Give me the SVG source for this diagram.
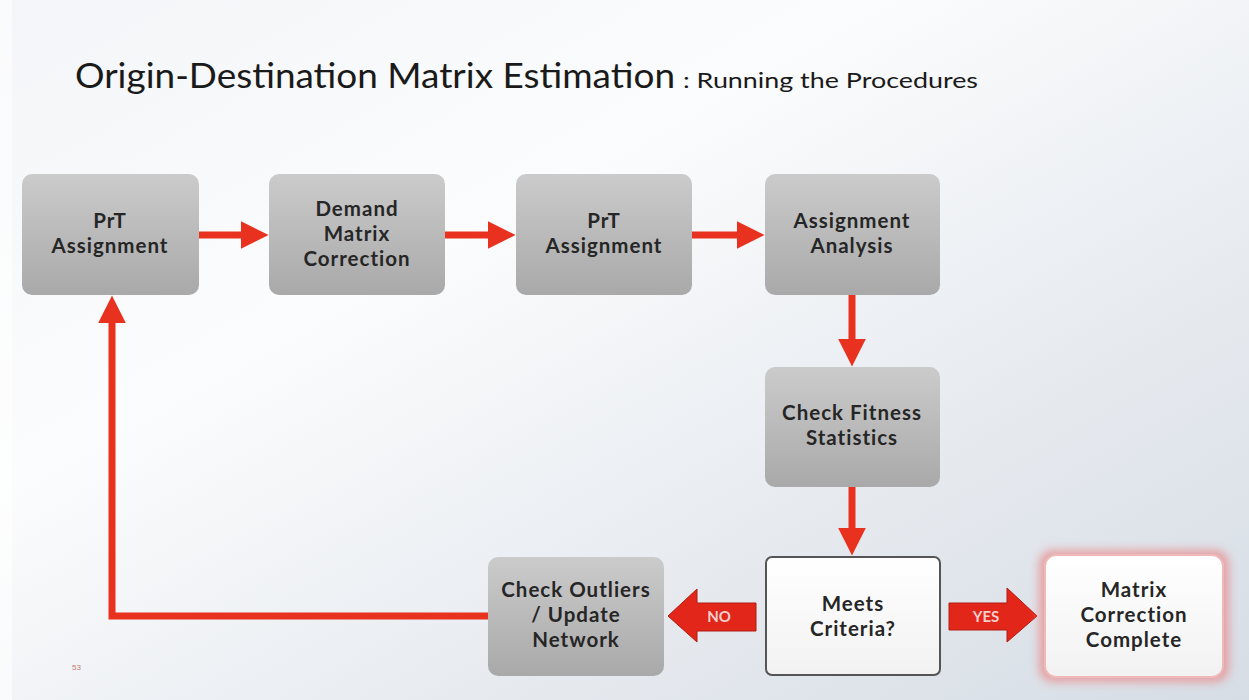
<svg xmlns="http://www.w3.org/2000/svg" width="1249" height="700" viewBox="0 0 1249 700">
<defs>
<linearGradient id="bg" x1="0" y1="0" x2="1" y2="1">
<stop offset="0" stop-color="#f3f5f8"/>
<stop offset="0.35" stop-color="#fbfcfd"/>
<stop offset="0.7" stop-color="#e6eaef"/>
<stop offset="1" stop-color="#d6dde5"/>
</linearGradient>
<linearGradient id="gbox" x1="0" y1="0" x2="0" y2="1">
<stop offset="0" stop-color="#cbcbcb"/>
<stop offset="1" stop-color="#a9a9a9"/>
</linearGradient>
<linearGradient id="wbox" x1="0" y1="0" x2="0" y2="1">
<stop offset="0" stop-color="#ffffff"/>
<stop offset="1" stop-color="#f2f2f2"/>
</linearGradient>
<filter id="glow" x="-20%" y="-20%" width="140%" height="140%">
<feGaussianBlur stdDeviation="5"/>
</filter>
<marker id="ah" markerWidth="4" markerHeight="4" refX="2.2" refY="2" orient="auto" markerUnits="strokeWidth">
<path d="M0,0 L4,2 L0,4 Z" fill="#e8321f"/>
</marker>
<style>
.box{fill:url(#gbox);}
.lbl{font-family:"Lato","Open Sans","Liberation Sans",sans-serif;font-weight:bold;font-size:20.5px;letter-spacing:1px;fill:#262626;text-anchor:middle;}
.con{stroke:#e8321f;stroke-width:7;fill:none;}
.blk{fill:#e3261a;stroke:#b01c12;stroke-width:1;}
.blt{font-family:"Lato","Liberation Sans",sans-serif;font-weight:bold;font-size:15px;fill:#f4d0cc;text-anchor:middle;}
</style>
</defs>
<rect width="1249" height="700" fill="url(#bg)"/>
<rect x="0" y="0" width="12" height="700" fill="#ffffff" opacity="0.6"/>
<text x="75" y="88" font-family="Lato,'Liberation Sans',sans-serif" font-size="34" fill="#1a1a1a" textLength="600" lengthAdjust="spacingAndGlyphs">Origin-Destination Matrix Estimation</text>
<text x="683" y="88" font-family="Lato,'Liberation Sans',sans-serif" font-size="22" fill="#1a1a1a" textLength="295" lengthAdjust="spacingAndGlyphs">: Running the Procedures</text>
<text x="72" y="670" font-family="'Liberation Sans',sans-serif" font-size="8" fill="#c27a7a">53</text>

<g id="connectors">
<line class="con" x1="199" y1="235" x2="256" y2="235" marker-end="url(#ah)"/>
<line class="con" x1="445" y1="235" x2="503" y2="235" marker-end="url(#ah)"/>
<line class="con" x1="692" y1="235" x2="752" y2="235" marker-end="url(#ah)"/>
<line class="con" x1="852" y1="295" x2="852" y2="354" marker-end="url(#ah)"/>
<line class="con" x1="852" y1="487" x2="852" y2="543" marker-end="url(#ah)"/>
<polyline class="con" points="488,616 112,616 112,308" marker-end="url(#ah)"/>
<g id="no-arrow">
<path class="blk" d="M756,603 L697,603 L697,589 L668,616 L697,642 L697,631 L756,631 Z"/>
<text class="blt" x="719" y="622">NO</text>
</g>
<g id="yes-arrow">
<path class="blk" d="M949,603 L1007,603 L1007,588 L1037,616 L1007,642 L1007,630 L949,630 Z"/>
<text class="blt" x="986" y="622">YES</text>
</g>
</g>

<g id="prt1">
<rect class="box" x="22" y="174" width="177" height="121" rx="10"/>
<text class="lbl" x="110" y="228">PrT</text>
<text class="lbl" x="110" y="253">Assignment</text>
</g>
<g id="demand">
<rect class="box" x="269" y="174" width="176" height="121" rx="10"/>
<text class="lbl" x="357" y="216">Demand</text>
<text class="lbl" x="357" y="241">Matrix</text>
<text class="lbl" x="357" y="266">Correction</text>
</g>
<g id="prt2">
<rect class="box" x="516" y="174" width="176" height="121" rx="10"/>
<text class="lbl" x="604" y="228">PrT</text>
<text class="lbl" x="604" y="253">Assignment</text>
</g>
<g id="analysis">
<rect class="box" x="765" y="174" width="175" height="121" rx="10"/>
<text class="lbl" x="852" y="228">Assignment</text>
<text class="lbl" x="852" y="253">Analysis</text>
</g>
<g id="fitness">
<rect class="box" x="765" y="367" width="175" height="120" rx="10"/>
<text class="lbl" x="852" y="420">Check Fitness</text>
<text class="lbl" x="852" y="445">Statistics</text>
</g>
<g id="criteria">
<rect x="766" y="557" width="174" height="118" rx="6" fill="url(#wbox)" stroke="#555" stroke-width="2"/>
<text class="lbl" x="853" y="611">Meets</text>
<text class="lbl" x="853" y="636">Criteria?</text>
</g>
<g id="outliers">
<rect class="box" x="488" y="557" width="176" height="119" rx="10"/>
<text class="lbl" x="576" y="597">Check Outliers</text>
<text class="lbl" x="576" y="622">/ Update</text>
<text class="lbl" x="576" y="647">Network</text>
</g>
<g id="complete">
<rect x="1039" y="550" width="190" height="132" rx="14" fill="#e88a8a" opacity="0.75" filter="url(#glow)"/>
<rect x="1045" y="555" width="178" height="122" rx="11" fill="url(#wbox)" stroke="#f0b9b9" stroke-width="2"/>
<text class="lbl" x="1134" y="597">Matrix</text>
<text class="lbl" x="1134" y="622">Correction</text>
<text class="lbl" x="1134" y="647">Complete</text>
</g>
</svg>
